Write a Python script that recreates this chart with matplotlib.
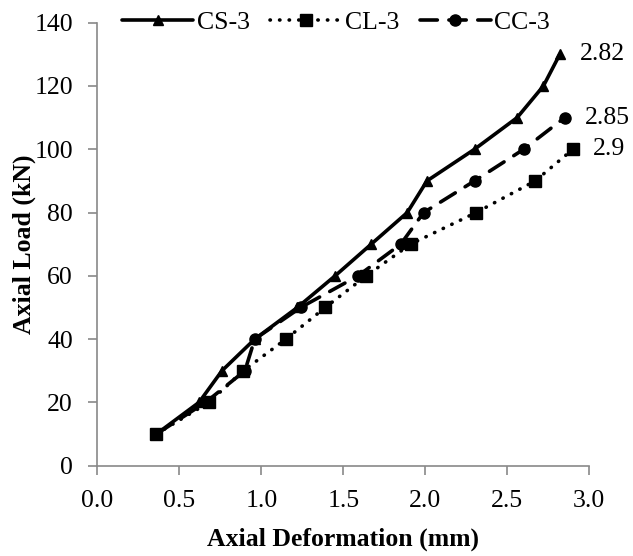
import matplotlib
matplotlib.use('Agg')
import matplotlib.pyplot as plt

plt.rcParams['font.family'] = ['Liberation Serif', 'DejaVu Serif']

# CS-3
cs_x = [0.36, 0.62, 0.76, 0.96, 1.22, 1.45, 1.67, 1.89, 2.01, 2.30, 2.56, 2.72, 2.82]
cs_y = [10, 20, 30, 40, 50, 60, 70, 80, 90, 100, 110, 120, 130]
# CL-3
cl_x = [0.36, 0.68, 0.89, 1.15, 1.39, 1.64, 1.91, 2.31, 2.67, 2.90]
cl_y = [10, 20, 30, 40, 50, 60, 70, 80, 90, 100]
# CC-3
cc_x = [0.36, 0.66, 0.90, 0.96, 1.24, 1.59, 1.85, 1.99, 2.30, 2.60, 2.85]
cc_y = [10, 20, 30, 40, 50, 60, 70, 80, 90, 100, 110]

end_labels = ['2.82', '2.85', '2.9']

fs = 18.5

fig = plt.figure(figsize=(6.33, 5.56), dpi=100)
ax = fig.add_axes([0.1537, 0.1624, 0.7773, 0.7968])

ax.plot(cs_x, cs_y, color='black', lw=2.6, marker='^', ms=6.5, label='CS-3',
        solid_capstyle='round')
ax.plot(cl_x, cl_y, color='black', lw=2.6, ls=(0, (0.1, 2.55)), dash_capstyle='round',
        marker='s', ms=8, label='CL-3')
ax.plot(cc_x, cc_y, color='black', lw=2.6, ls=(0, (4.8, 3.2)), dash_capstyle='round',
        marker='o', ms=8, label='CC-3')

ax.text(cs_x[-1] + 0.12, cs_y[-1], end_labels[0], fontsize=fs, va='center', clip_on=False)
ax.text(cc_x[-1] + 0.12, cc_y[-1], end_labels[1], fontsize=fs, va='center', clip_on=False)
ax.text(cl_x[-1] + 0.12, cl_y[-1], end_labels[2], fontsize=fs, va='center', clip_on=False)

ax.set_xlim(0, 3.0)
ax.set_ylim(0, 140)
ax.set_xticks([0.0, 0.5, 1.0, 1.5, 2.0, 2.5, 3.0])
ax.set_xticklabels(['0.0', '0.5', '1.0', '1.5', '2.0', '2.5', '3.0'])
ax.set_yticks(range(0, 141, 20))

for s in ['top', 'right']:
    ax.spines[s].set_visible(False)
for s in ['left', 'bottom']:
    ax.spines[s].set_color('#898989')
    ax.spines[s].set_linewidth(1.2)
ax.tick_params(colors='#898989', labelcolor='black', labelsize=fs, width=1.2, length=6.5)
ax.tick_params(axis='x', pad=11)
ax.tick_params(axis='y', pad=11)

ax.set_xlabel('Axial Deformation (mm)', fontsize=fs, fontweight='bold', labelpad=11)
ax.set_ylabel('Axial Load (kN)', fontsize=fs, fontweight='bold', labelpad=-1)

ax.legend(loc='center left', bbox_to_anchor=(0.03, 1.0), ncol=3, frameon=False,
          fontsize=fs, handlelength=2.75, columnspacing=0.8, handletextpad=0.15,
          borderaxespad=0)

fig.savefig('out.png', dpi=100)
